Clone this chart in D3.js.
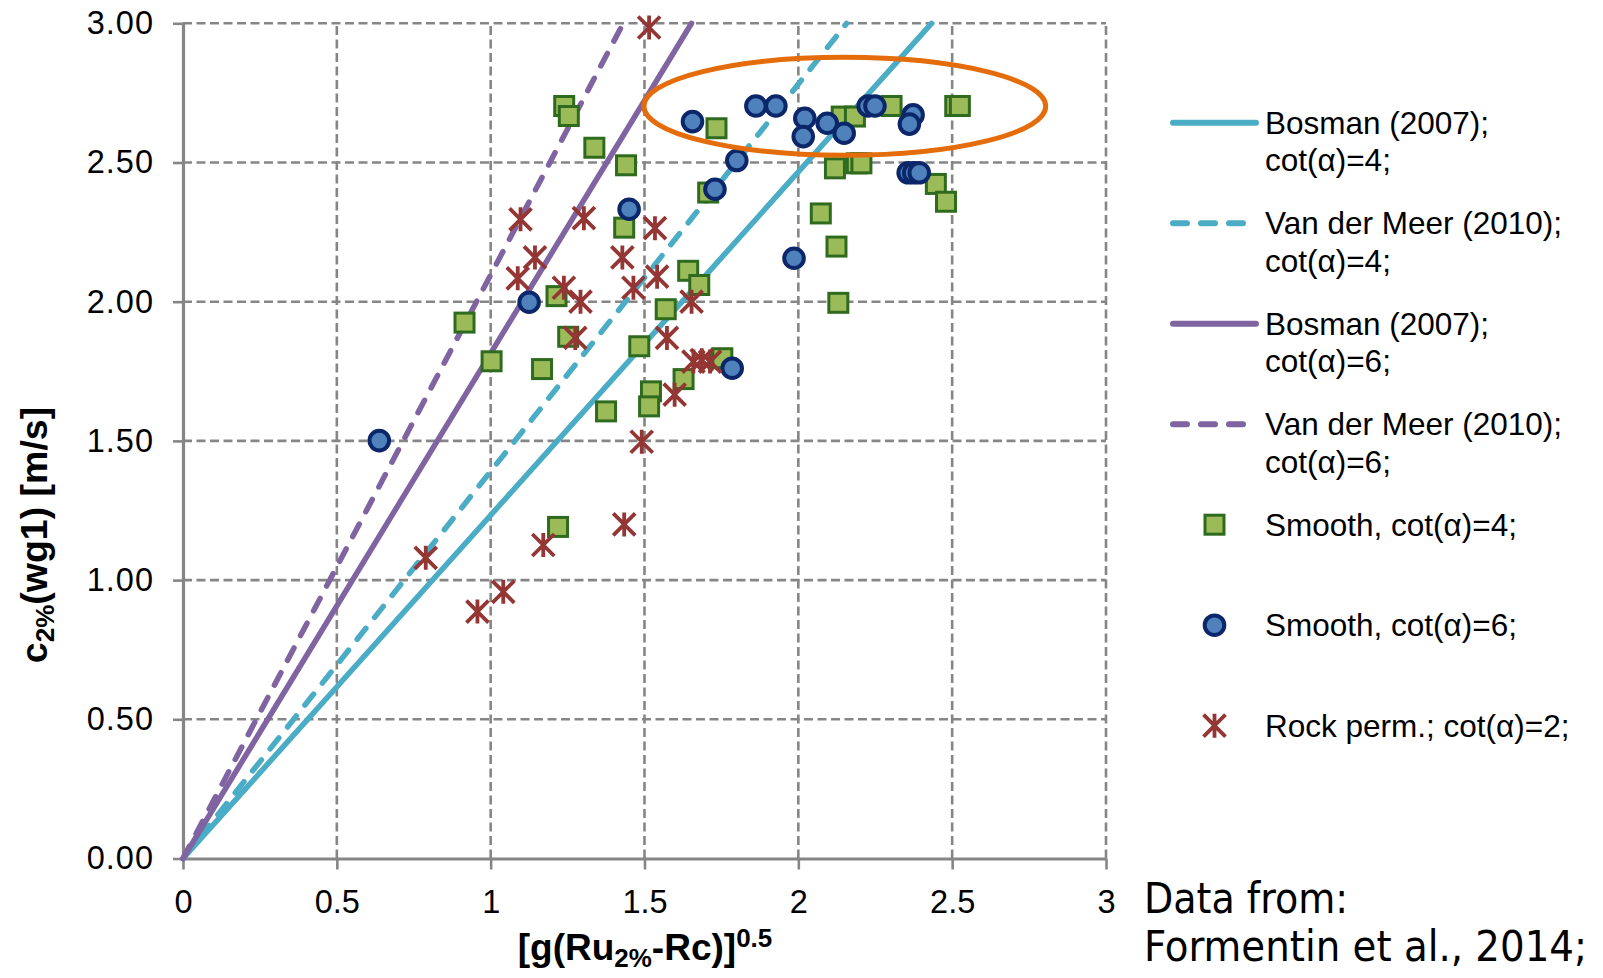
<!DOCTYPE html>
<html><head><meta charset="utf-8">
<script src="https://cdn.jsdelivr.net/npm/d3@7"></script>
<style>body{margin:0;background:#fff;} svg{display:block;}</style>
</head><body>
<svg id="chart" width="1603" height="978"></svg>
<script>
// ---------- data ----------
const xTicks = [0, 0.5, 1, 1.5, 2, 2.5, 3];
const xTickLabels = ["0", "0.5", "1", "1.5", "2", "2.5", "3"];
const yTicks = [0, 0.5, 1, 1.5, 2, 2.5, 3];
const yTickLabels = ["0.00", "0.50", "1.00", "1.50", "2.00", "2.50", "3.00"];

// formula lines (end points)
const bosman4 = [[0, 0], [2.433, 3]];
const vanDerMeer4 = [[0, 0], [2.157, 3]];
const bosman6 = [[0, 0], [1.653, 3]];
const vanDerMeer6 = [[0, 0], [1.431, 3]];

// Smooth, cot(a)=4
const smooth4 = [
  [1.239, 2.703], [1.254, 2.667], [1.337, 2.553], [1.440, 2.490], [1.434, 2.266],
  [1.214, 2.020], [0.915, 1.925], [1.734, 2.623], [2.141, 2.665], [2.184, 2.665],
  [2.303, 2.703], [2.510, 2.703], [2.525, 2.703], [1.707, 2.392], [2.119, 2.479],
  [2.190, 2.497], [2.205, 2.497], [2.447, 2.423], [2.480, 2.359], [2.073, 2.317],
  [2.124, 2.198], [2.130, 1.996], [1.642, 2.111], [1.678, 2.060], [1.569, 1.973],
  [1.003, 1.786], [1.167, 1.758], [1.252, 1.874], [1.483, 1.840], [1.753, 1.797],
  [1.627, 1.722], [1.521, 1.678], [1.515, 1.624], [1.375, 1.606], [1.219, 1.191]
];
// Smooth, cot(a)=6
const smooth6 = [
  [0.638, 1.501], [1.125, 1.998], [1.450, 2.332], [1.656, 2.647], [1.862, 2.703],
  [1.927, 2.703], [2.021, 2.659], [2.016, 2.593], [2.094, 2.641], [2.149, 2.605],
  [2.227, 2.703], [2.249, 2.703], [2.373, 2.671], [2.361, 2.638], [1.800, 2.507],
  [1.729, 2.404], [2.357, 2.463], [2.375, 2.463], [2.393, 2.463], [1.986, 2.156],
  [1.785, 1.761]
];
// Rock perm., cot(a)=2
const rock2 = [
  [1.515, 2.985], [1.097, 2.296], [1.303, 2.300], [1.144, 2.159], [1.088, 2.084],
  [1.428, 2.159], [1.464, 2.050], [1.238, 2.050], [1.292, 2.000], [1.534, 2.264],
  [1.541, 2.090], [1.653, 2.000], [1.275, 1.870], [1.573, 1.870], [1.659, 1.785],
  [1.686, 1.790], [1.713, 1.785], [1.598, 1.666], [1.491, 1.497], [1.434, 1.200],
  [1.171, 1.126], [0.789, 1.080], [1.041, 0.958], [0.957, 0.887]
];

// highlight ellipse (centre and radii in data units)
const highlightCenter = [2.151, 2.702];
const highlightRadii = [0.653, 0.176];

const legendLabels = [
  ["Bosman (2007);", "cot(\u03B1)=4;"],
  ["Van der Meer (2010);", "cot(\u03B1)=4;"],
  ["Bosman (2007);", "cot(\u03B1)=6;"],
  ["Van der Meer (2010);", "cot(\u03B1)=6;"],
  ["Smooth, cot(\u03B1)=4;"],
  ["Smooth, cot(\u03B1)=6;"],
  ["Rock perm.; cot(\u03B1)=2;"]
];
const sourceLines = ["Data from:", "Formentin et al., 2014;"];

// ---------- styles ----------
const C = {
  blue: "#4BACC6", purple: "#8064A2",
  sqFill: "#9BBB59", sqStroke: "#2F6B1E",
  ciFill: "#4F81BD", ciStroke: "#0B2769",
  rock: "#943634", ell: "#E46C0A", grid: "#868686"
};
const FONT = "'Liberation Sans', Arial, sans-serif";

const svg = d3.select("#chart");
svg.append("rect").attr("width", 1603).attr("height", 978).attr("fill", "#fff");

const x = d3.scaleLinear().domain([0, 3]).range([183, 1106]);
const y = d3.scaleLinear().domain([0, 3]).range([858.5, 23.3]);

// grid
const grid = svg.append("g");
grid.selectAll(".gy").data(yTicks.filter(d => d > 0)).join("line")
  .attr("x1", x(0)).attr("x2", x(3)).attr("y1", d => y(d)).attr("y2", d => y(d))
  .attr("stroke", C.grid).attr("stroke-width", 2.6).attr("stroke-dasharray", "9,4.5");
grid.selectAll(".gx").data(xTicks.filter(d => d > 0)).join("line")
  .attr("y1", y(0)).attr("y2", y(3)).attr("x1", d => x(d)).attr("x2", d => x(d))
  .attr("stroke", C.grid).attr("stroke-width", 2.6).attr("stroke-dasharray", "9,4.5");

// axes
const yAxis = d3.axisLeft(y).tickValues(yTicks).tickFormat((d, i) => yTickLabels[i])
  .tickSize(10).tickSizeOuter(0).tickPadding(20);
const xAxis = d3.axisBottom(x).tickValues(xTicks).tickFormat((d, i) => xTickLabels[i])
  .tickSize(11).tickSizeOuter(0).tickPadding(20);
const gy = svg.append("g").attr("transform", `translate(${x(0)},0)`).call(yAxis);
const gx = svg.append("g").attr("transform", `translate(0,${y(0)})`).call(xAxis);
[gx, gy].forEach(g => {
  g.select(".domain").attr("stroke", C.grid).attr("stroke-width", 3.2);
  g.selectAll(".tick line").attr("stroke", C.grid).attr("stroke-width", 2.6);
  g.selectAll(".tick text").attr("fill", "#000").style("font-family", FONT).style("font-size", "32.5px");
});
gy.selectAll(".tick text").style("letter-spacing", "1px").attr("dx", 1);

// lines
const lineGen = d3.line().x(d => x(d[0])).y(d => y(d[1]));
const lineSeries = [
  { data: bosman4, color: C.blue, dash: null },
  { data: vanDerMeer4, color: C.blue, dash: "14,14" },
  { data: bosman6, color: C.purple, dash: null },
  { data: vanDerMeer6, color: C.purple, dash: "14,14" }
];
svg.append("g").selectAll("path").data(lineSeries).join("path")
  .attr("d", d => lineGen(d.data)).attr("fill", "none")
  .attr("stroke", d => d.color).attr("stroke-width", 5.5)
  .attr("stroke-linecap", "round")
  .attr("stroke-dasharray", d => d.dash);

// markers
function drawSquare(sel) {
  sel.append("rect").attr("x", -9.5).attr("y", -9.5).attr("width", 19).attr("height", 19)
    .attr("fill", C.sqFill).attr("stroke", C.sqStroke).attr("stroke-width", 3);
}
function drawCircle(sel) {
  sel.append("circle").attr("r", 9.8).attr("fill", C.ciFill)
    .attr("stroke", C.ciStroke).attr("stroke-width", 4);
}
function drawRock(sel) {
  sel.append("path").attr("d", "M-11,-11L11,11M-11,11L11,-11M0,-12L0,12")
    .attr("stroke", C.rock).attr("stroke-width", 3.8).attr("fill", "none");
}
svg.append("g").selectAll("g").data(smooth4).join("g")
  .attr("transform", d => `translate(${x(d[0])},${y(d[1])})`).call(drawSquare);
svg.append("g").selectAll("g").data(smooth6).join("g")
  .attr("transform", d => `translate(${x(d[0])},${y(d[1])})`).call(drawCircle);
svg.append("g").selectAll("g").data(rock2).join("g")
  .attr("transform", d => `translate(${x(d[0])},${y(d[1])})`).call(drawRock);

// highlight ellipse
svg.append("ellipse")
  .attr("cx", x(highlightCenter[0])).attr("cy", y(highlightCenter[1]))
  .attr("rx", x(highlightRadii[0]) - x(0)).attr("ry", y(0) - y(highlightRadii[1]))
  .attr("fill", "none").attr("stroke", C.ell).attr("stroke-width", 5);

// axis titles
const yt = svg.append("text").attr("transform", "translate(47,535) rotate(-90)")
  .attr("text-anchor", "middle").style("font-family", FONT).style("font-weight", "bold")
  .style("font-size", "37.5px").attr("fill", "#000");
yt.append("tspan").text("c");
yt.append("tspan").attr("dy", 7).style("font-size", "26px").text("2%");
yt.append("tspan").attr("dy", -7).text("(wg1) [m/s]");

const xt = svg.append("text").attr("x", 645).attr("y", 960)
  .attr("text-anchor", "middle").style("font-family", FONT).style("font-weight", "bold")
  .style("font-size", "37px").attr("fill", "#000");
xt.append("tspan").text("[g(Ru");
xt.append("tspan").attr("dy", 7).style("font-size", "26px").text("2%");
xt.append("tspan").attr("dy", -7).text("-Rc)]");
xt.append("tspan").attr("dy", -13).style("font-size", "26px").text("0.5");

// legend
const legendY0 = 122.7, legendStep = 100.5;
const legendItems = [
  { kind: "line", color: C.blue, dash: null },
  { kind: "line", color: C.blue, dash: "14,14" },
  { kind: "line", color: C.purple, dash: null },
  { kind: "line", color: C.purple, dash: "14,14" },
  { kind: "square" }, { kind: "circle" }, { kind: "rock" }
];
const lg = svg.append("g");
legendItems.forEach((it, i) => {
  const cy = legendY0 + i * legendStep;
  const g = lg.append("g").attr("transform", `translate(0,${cy})`);
  if (it.kind === "line") {
    g.append("line").attr("x1", 1173).attr("x2", 1256).attr("y1", 0).attr("y2", 0)
      .attr("stroke", it.color).attr("stroke-width", 6).attr("stroke-linecap", "round")
      .attr("stroke-dasharray", it.dash);
  } else {
    const m = g.append("g").attr("transform", "translate(1214.5,0)");
    if (it.kind === "square") drawSquare(m);
    if (it.kind === "circle") drawCircle(m);
    if (it.kind === "rock") drawRock(m);
  }
  legendLabels[i].forEach((t, j) => {
    g.append("text").attr("x", 1265).attr("y", 11 + j * 37.5)
      .style("font-family", FONT).style("font-size", "31.5px").attr("fill", "#000").text(t);
  });
});

// source note
svg.append("text").attr("x", 1144).attr("y", 913).attr("textLength", 204)
  .attr("lengthAdjust", "spacingAndGlyphs")
  .style("font-family", "'DejaVu Sans Condensed','DejaVu Sans',sans-serif").style("font-size", "43px")
  .attr("fill", "#000").text(sourceLines[0]);
svg.append("text").attr("x", 1144).attr("y", 961).attr("textLength", 443)
  .attr("lengthAdjust", "spacingAndGlyphs")
  .style("font-family", "'DejaVu Sans Condensed','DejaVu Sans',sans-serif").style("font-size", "43px")
  .attr("fill", "#000").text(sourceLines[1]);
</script>
</body></html>
